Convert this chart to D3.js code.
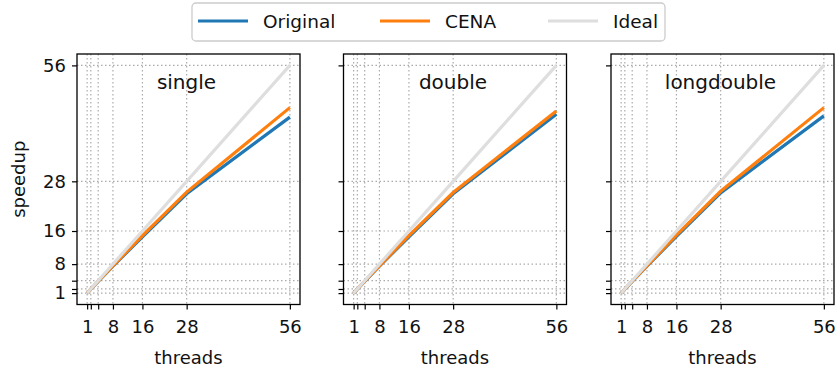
<!DOCTYPE html>
<html>
<head>
<meta charset="utf-8">
<title>Speedup</title>
<script src="https://cdn.jsdelivr.net/npm/d3@7"></script>
<style>
body { margin: 0; background: #fff; }
text { font-family: "DejaVu Sans", sans-serif; fill: #111; }
</style>
</head>
<body>
<div class="container"></div>
<script>
// data
var threads = [1, 2, 4, 8, 16, 28, 56];
var panels = ["single", "double", "longdouble"];
var original = {
    single:     [1, 1.95, 3.85, 7.5, 14.6, 25.0, 43.5],
    double:     [1, 1.95, 3.85, 7.5, 14.6, 25.0, 44.2],
    longdouble: [1, 1.95, 3.85, 7.5, 14.7, 25.2, 43.8]
};
var cena = {
    single:     [1, 1.96, 3.9, 7.6, 14.9, 25.4, 45.8],
    double:     [1, 1.96, 3.9, 7.6, 14.9, 25.3, 45.0],
    longdouble: [1, 1.96, 3.9, 7.6, 15.0, 25.6, 45.8]
};
var ideal = [1, 2, 4, 8, 16, 28, 56];
var tickValues = [1, 2, 4, 8, 16, 28, 56];
var tickLabels = {1: "1", 8: "8", 16: "16", 28: "28", 56: "56"};
var legendNames = ["Original", "CENA", "Ideal"];
var legendColors = ["#1f77b4", "#ff7f0e", "#dedede"];

var width = 835, height = 372;
var lefts = [77, 343.5, 611], pw = 223, plotTop = 54, plotBottom = 304.5;

var svg = d3.select(".container").append("svg")
    .attr("width", width).attr("height", height);

var x = d3.scaleLinear().domain([-1.75, 58.75]);
var y = d3.scaleLinear().domain([-1.75, 58.75]).range([plotBottom, plotTop]);

panels.forEach(function(name, i) {
    var x0 = lefts[i];
    x.range([x0, x0 + pw]);
    var g = svg.append("g");

    // grid
    g.selectAll(".vg").data(tickValues).enter().append("line")
        .attr("x1", d => x(d)).attr("x2", d => x(d))
        .attr("y1", plotTop).attr("y2", plotBottom)
        .attr("stroke", "#aaaaaa").attr("stroke-width", 1.2)
        .attr("stroke-dasharray", "1.5,2.5");
    g.selectAll(".hg").data(tickValues).enter().append("line")
        .attr("y1", d => y(d)).attr("y2", d => y(d))
        .attr("x1", x0).attr("x2", x0 + pw)
        .attr("stroke", "#aaaaaa").attr("stroke-width", 1.2)
        .attr("stroke-dasharray", "1.5,2.5");

    var line = d3.line().x((d, j) => x(threads[j])).y(d => y(d));
    g.append("path").attr("d", line(original[name]))
        .attr("fill", "none").attr("stroke", legendColors[0]).attr("stroke-width", 3.2);
    g.append("path").attr("d", line(cena[name]))
        .attr("fill", "none").attr("stroke", legendColors[1]).attr("stroke-width", 3.2);
    g.append("path").attr("d", line(ideal))
        .attr("fill", "none").attr("stroke", legendColors[2]).attr("stroke-width", 3.2);

    // axes
    var xAxis = d3.axisBottom(x).tickValues(tickValues)
        .tickFormat(d => tickLabels[d] || "").tickSize(5).tickSizeOuter(0).tickPadding(11);
    var yAxis = d3.axisLeft(y).tickValues(tickValues)
        .tickFormat(d => i === 0 ? (tickLabels[d] || "") : "").tickSize(5).tickSizeOuter(0).tickPadding(6);
    var gx = g.append("g").attr("transform", "translate(0," + plotBottom + ")").call(xAxis);
    var gy = g.append("g").attr("transform", "translate(" + x0 + ",0)").call(yAxis);
    [gx, gy].forEach(function(a) {
        a.select(".domain").remove();
        a.selectAll(".tick line").attr("stroke", "#000").attr("stroke-width", 1.2);
        a.selectAll(".tick text").attr("font-size", 18).attr("fill", "#111")
            .style("font-family", "'DejaVu Sans', sans-serif");
    });

    g.append("rect").attr("x", x0).attr("y", plotTop).attr("width", pw).attr("height", plotBottom - plotTop)
        .attr("fill", "none").attr("stroke", "#000").attr("stroke-width", 1.3);

    g.append("text").attr("x", x0 + pw / 2 - 2).attr("y", 89)
        .attr("text-anchor", "middle").attr("font-size", 20).text(name);

    g.append("text").attr("x", x0 + pw / 2).attr("y", 364)
        .attr("text-anchor", "middle").attr("font-size", 18).text("threads");
});

svg.append("text")
    .attr("transform", "translate(25," + ((plotTop + plotBottom) / 2) + ") rotate(-90)")
    .attr("text-anchor", "middle").attr("font-size", 18).text("speedup");

// legend
var leg = svg.append("g");
leg.append("rect").attr("x", 192).attr("y", 3).attr("width", 473).attr("height", 38)
    .attr("rx", 4).attr("fill", "#fff").attr("stroke", "#cccccc").attr("stroke-width", 1.3);
var legX = [198, 380, 548];
legendNames.forEach(function(n, k) {
    leg.append("line").attr("x1", legX[k]).attr("x2", legX[k] + 50)
        .attr("y1", 21).attr("y2", 21)
        .attr("stroke", legendColors[k]).attr("stroke-width", 3.2);
    leg.append("text").attr("x", legX[k] + 65).attr("y", 28)
        .attr("font-size", 18.5).text(n);
});
</script>
</body>
</html>
